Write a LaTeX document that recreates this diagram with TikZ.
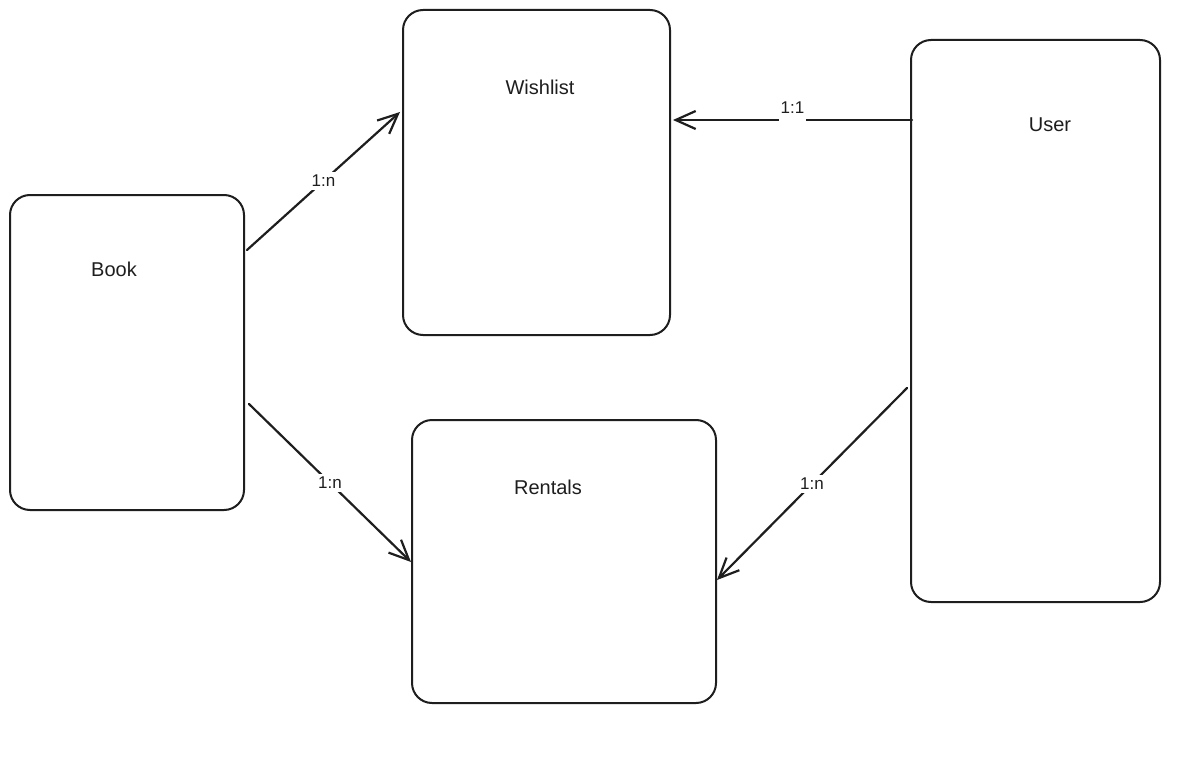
\documentclass[tikz,border=0pt]{standalone}
\usepackage{fontspec}
\setmainfont{Liberation Sans}
\usetikzlibrary{arrows.meta,calc}
\definecolor{ink}{HTML}{1E1E1E}
\tikzset{
  entity/.style={draw=ink, line width=2pt, rounded corners=20pt, fill=white, inner sep=0pt},
  title/.style={text=ink, font=\fontsize{20}{24}\selectfont, inner sep=0pt},
  rel/.style={draw=ink, line width=2.2pt, line cap=round, -{Straight Barb[length=20pt,width=18pt,line width=2.2pt]}},
  card/.style={text=ink, font=\fontsize{17}{20}\selectfont, fill=white, inner xsep=2pt, inner ysep=3pt}
}
\begin{document}
\begin{tikzpicture}[x=1pt,y=-1pt]
\useasboundingbox (0,0) rectangle (1199,773);
\fill[white] (0,0) rectangle (1199,773);
% entities
\node[entity, minimum width=234pt, minimum height=315pt] (book) at (127,352.5) {};
\node[entity, minimum width=267pt, minimum height=325pt] (wishlist) at (536.5,172.5) {};
\node[entity, minimum width=304pt, minimum height=283pt] (rentals) at (564,561.5) {};
\node[entity, minimum width=249pt, minimum height=562pt] (user) at (1035.5,321) {};
% titles
\node[title] (tbook) at (114,269) {Book};
\node[title] (twish) at (540,87) {Wishlist};
\node[title] (trent) at (548,487) {Rentals};
\node[title] (tuser) at (1050,125) {User};
% relations
\draw[rel] ($(book.east |- 0,250)+(2,0)$) -- node[card] (l1) {1:n} ($(wishlist.west |- 0,112)+(-2,0)$);
\draw[rel] ($(book.east |- 0,404)+(4,0)$) -- node[card] (l2) {1:n} ($(rentals.west |- 0,562)+(0,0)$);
\draw[rel] ($(user.west |- 0,120)+(2,0)$) -- node[card, inner ysep=9pt, yshift=12pt] (l3) {1:1} ($(wishlist.east |- 0,120)+(2,0)$);
\draw[rel] ($(user.west |- 0,388)+(-3,0)$) -- node[card] (l4) {1:n} ($(rentals.east |- 0,580)+(0,0)$);
\end{tikzpicture}
\end{document}
